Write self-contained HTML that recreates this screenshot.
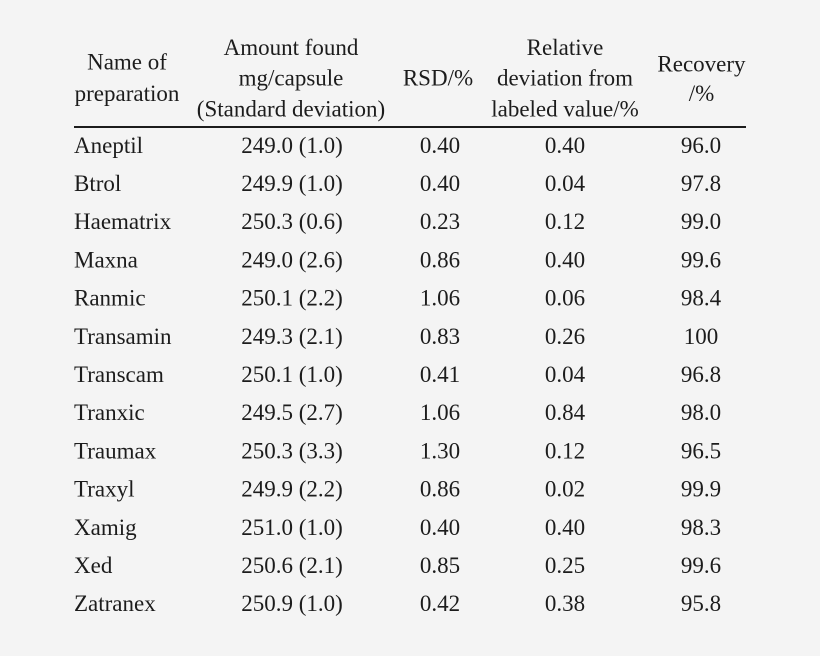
<!DOCTYPE html>
<html>
<head>
<meta charset="utf-8">
<style>
  html, body { margin: 0; padding: 0; background: #f4f4f4; }
  svg { display: block; }
  text { font-family: "Liberation Serif", "Times New Roman", serif; font-size: 23px; fill: #1c1c1c; }
  .c { text-anchor: middle; }
</style>
</head>
<body>
<svg width="820" height="656" viewBox="0 0 820 656" xmlns="http://www.w3.org/2000/svg">
  <rect x="0" y="0" width="820" height="656" fill="#f4f4f4"/>

  <!-- Header -->
  <text class="c" x="127" y="69.5">Name of</text>
  <text class="c" x="127" y="101">preparation</text>

  <text class="c" x="291" y="55">Amount found</text>
  <text class="c" x="291" y="85.5">mg/capsule</text>
  <text class="c" x="291" y="116.5">(Standard deviation)</text>

  <text class="c" x="438" y="85.5">RSD/%</text>

  <text class="c" x="565" y="55">Relative</text>
  <text class="c" x="565" y="85.5">deviation from</text>
  <text class="c" x="565" y="116.5">labeled value/%</text>

  <text class="c" x="701.5" y="71.5">Recovery</text>
  <text class="c" x="701.5" y="101">/%</text>

  <line x1="74" y1="127" x2="746" y2="127" stroke="#1c1c1c" stroke-width="2"/>

  <!-- Rows -->
  <g>
    <text x="74" y="152.8">Aneptil</text>
    <text class="c" x="292" y="152.8">249.0 (1.0)</text>
    <text class="c" x="440" y="152.8">0.40</text>
    <text class="c" x="565" y="152.8">0.40</text>
    <text class="c" x="701" y="152.8">96.0</text>

    <text x="74" y="191">Btrol</text>
    <text class="c" x="292" y="191">249.9 (1.0)</text>
    <text class="c" x="440" y="191">0.40</text>
    <text class="c" x="565" y="191">0.04</text>
    <text class="c" x="701" y="191">97.8</text>

    <text x="74" y="229.2">Haematrix</text>
    <text class="c" x="292" y="229.2">250.3 (0.6)</text>
    <text class="c" x="440" y="229.2">0.23</text>
    <text class="c" x="565" y="229.2">0.12</text>
    <text class="c" x="701" y="229.2">99.0</text>

    <text x="74" y="267.4">Maxna</text>
    <text class="c" x="292" y="267.4">249.0 (2.6)</text>
    <text class="c" x="440" y="267.4">0.86</text>
    <text class="c" x="565" y="267.4">0.40</text>
    <text class="c" x="701" y="267.4">99.6</text>

    <text x="74" y="305.6">Ranmic</text>
    <text class="c" x="292" y="305.6">250.1 (2.2)</text>
    <text class="c" x="440" y="305.6">1.06</text>
    <text class="c" x="565" y="305.6">0.06</text>
    <text class="c" x="701" y="305.6">98.4</text>

    <text x="74" y="343.8">Transamin</text>
    <text class="c" x="292" y="343.8">249.3 (2.1)</text>
    <text class="c" x="440" y="343.8">0.83</text>
    <text class="c" x="565" y="343.8">0.26</text>
    <text class="c" x="701" y="343.8">100</text>

    <text x="74" y="382">Transcam</text>
    <text class="c" x="292" y="382">250.1 (1.0)</text>
    <text class="c" x="440" y="382">0.41</text>
    <text class="c" x="565" y="382">0.04</text>
    <text class="c" x="701" y="382">96.8</text>

    <text x="74" y="420.2">Tranxic</text>
    <text class="c" x="292" y="420.2">249.5 (2.7)</text>
    <text class="c" x="440" y="420.2">1.06</text>
    <text class="c" x="565" y="420.2">0.84</text>
    <text class="c" x="701" y="420.2">98.0</text>

    <text x="74" y="458.4">Traumax</text>
    <text class="c" x="292" y="458.4">250.3 (3.3)</text>
    <text class="c" x="440" y="458.4">1.30</text>
    <text class="c" x="565" y="458.4">0.12</text>
    <text class="c" x="701" y="458.4">96.5</text>

    <text x="74" y="496.6">Traxyl</text>
    <text class="c" x="292" y="496.6">249.9 (2.2)</text>
    <text class="c" x="440" y="496.6">0.86</text>
    <text class="c" x="565" y="496.6">0.02</text>
    <text class="c" x="701" y="496.6">99.9</text>

    <text x="74" y="534.8">Xamig</text>
    <text class="c" x="292" y="534.8">251.0 (1.0)</text>
    <text class="c" x="440" y="534.8">0.40</text>
    <text class="c" x="565" y="534.8">0.40</text>
    <text class="c" x="701" y="534.8">98.3</text>

    <text x="74" y="573">Xed</text>
    <text class="c" x="292" y="573">250.6 (2.1)</text>
    <text class="c" x="440" y="573">0.85</text>
    <text class="c" x="565" y="573">0.25</text>
    <text class="c" x="701" y="573">99.6</text>

    <text x="74" y="611.2">Zatranex</text>
    <text class="c" x="292" y="611.2">250.9 (1.0)</text>
    <text class="c" x="440" y="611.2">0.42</text>
    <text class="c" x="565" y="611.2">0.38</text>
    <text class="c" x="701" y="611.2">95.8</text>
  </g>
</svg>
</body>
</html>
